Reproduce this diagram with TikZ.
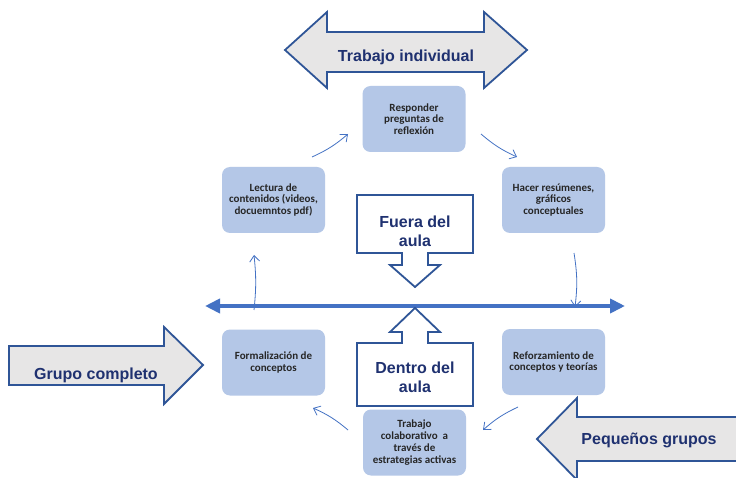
\documentclass[tikz,border=0pt]{standalone}
\usepackage{fontspec}
\setmainfont{Liberation Sans}
\newfontfamily\boxfont{Carlito}
\usetikzlibrary{arrows.meta}
\definecolor{boxblue}{HTML}{B4C7E7}
\definecolor{lineblue}{HTML}{4472C4}
\definecolor{darkedge}{HTML}{2F5597}
\definecolor{navy}{HTML}{1F3170}
\definecolor{arrowgray}{HTML}{E7E6E6}
\definecolor{boxtext}{HTML}{262626}
\tikzset{
  stepbox/.style={rounded corners=8pt, fill=boxblue, minimum width=103pt, minimum height=66pt,
    align=center, inner sep=0pt, text=boxtext,
    font=\boxfont\bfseries\fontsize{11}{11.8}\selectfont},
  bigarrow/.style={draw=darkedge, line width=1.8pt, fill=arrowgray, line join=miter},
  callout/.style={draw=darkedge, line width=1.8pt, fill=white, line join=miter},
  biglabel/.style={text=navy, font=\bfseries\fontsize{16}{19}\selectfont, align=center, inner sep=0pt},
  cyc/.style={draw=lineblue, line width=0.8pt, -{Straight Barb[length=6pt,width=10pt]}}
}
\begin{document}
\begin{tikzpicture}[x=1pt,y=-1pt]
\useasboundingbox (0,0) rectangle (736,478);
\fill[white] (0,0) rectangle (736,478);
\clip (0,0) rectangle (736,478);

% Trabajo individual double arrow
\draw[bigarrow] (285,50) -- (327,12) -- (327,32) -- (484,32) -- (484,12) -- (527,50)
  -- (484,88) -- (484,72) -- (327,72) -- (327,88) -- cycle;
\node[biglabel] (ti) at (406,57) {Trabajo individual};

% Grupo completo arrow
\draw[bigarrow] (9,346) -- (164,346) -- (164,327) -- (203,365) -- (164,404) -- (164,385) -- (9,385) -- cycle;
\node[biglabel, anchor=base] (gc) at (96,379) {Grupo completo};

% Pequeños grupos arrow
\draw[bigarrow] (745,417) -- (577,417) -- (577,398) -- (537,439) -- (577,480) -- (577,461) -- (745,461) -- cycle;
\node[biglabel] (pg) at (649,440) {Pequeños grupos};

% main horizontal line
\coordinate (hl) at (205,306);
\coordinate (hr) at (625,306);
\draw[lineblue, line width=4.5pt, {Triangle[length=15pt,width=14pt]}-{Triangle[length=15pt,width=14pt]}] (hl) -- (hr);

% Fuera del aula callout
\draw[callout] (357,195) -- (473,195) -- (473,253) -- (428,253) -- (428,265) -- (440,265) -- (415,287)
  -- (390,265) -- (402,265) -- (402,253) -- (357,253) -- cycle;
\node[biglabel] (fuera) at (415,231) {Fuera del\\aula};

% Dentro del aula callout
\draw[callout] (415,308) -- (440,332) -- (428,332) -- (428,343) -- (473,343) -- (473,406) -- (357,406)
  -- (357,343) -- (402,343) -- (402,332) -- (390,332) -- cycle;
\node[biglabel] (dentro) at (415,377) {Dentro del\\aula};

% boxes
\node[stepbox] (resp) at (414,119) {Responder\\preguntas de\\reflexión};
\node[stepbox] (lect) at (273.5,200) {Lectura de\\contenidos (videos,\\docuemntos pdf)};
\node[stepbox] (hacer) at (553.5,200) {Hacer resúmenes,\\gráficos\\conceptuales};
\node[stepbox] (form) at (273.5,362.5) {Formalización de\\conceptos};
\node[stepbox] (refor) at (553.5,362) {Reforzamiento de\\conceptos y teorías};
\node[stepbox] (trab) at (414.5,442.5) {Trabajo\\colaborativo\ \ a\\través de\\estrategias activas};

% cycle arrows
\coordinate (a1s) at (312,157); \coordinate (a1e) at (348,134);
\coordinate (a2s) at (481,134); \coordinate (a2e) at (517,157);
\coordinate (a3s) at (574,253); \coordinate (a3e) at (575,307);
\coordinate (a4s) at (518,407); \coordinate (a4e) at (483,430);
\coordinate (a5s) at (348,430); \coordinate (a5e) at (313,408);
\coordinate (a6s) at (254,310); \coordinate (a6e) at (254,255);
\draw[cyc] (a1s) to[bend right=8] (a1e);
\draw[cyc] (a2s) to[bend right=8] (a2e);
\draw[cyc] (a3s) to[bend left=8] (a3e);
\draw[cyc] (a4s) to[bend right=8] (a4e);
\draw[cyc] (a5s) to[bend right=8] (a5e);
\draw[cyc] (a6s) to[bend right=6] (a6e);
\end{tikzpicture}
\end{document}
